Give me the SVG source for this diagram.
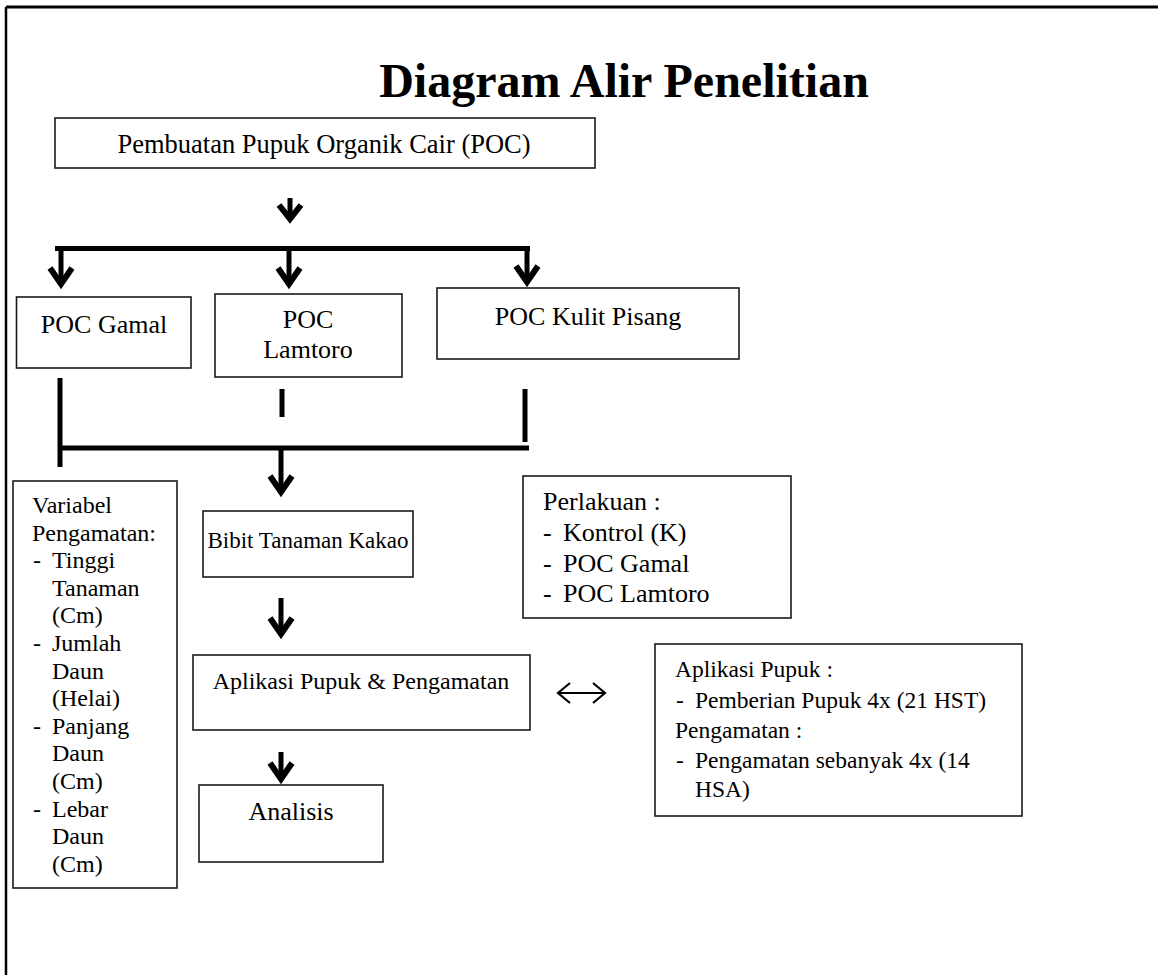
<svg xmlns="http://www.w3.org/2000/svg" width="1158" height="975" viewBox="0 0 1158 975">
<style>
.box{fill:#fff;stroke:#1a1a1a;stroke-width:1.6}
.t{font-family:"Liberation Serif","Times New Roman",serif;fill:#000}
.c{text-anchor:middle}
.con{fill:none;stroke:#000;stroke-width:5;stroke-linejoin:miter;stroke-linecap:butt}
.head{fill:none;stroke:#000;stroke-width:6;stroke-linejoin:miter;stroke-linecap:butt}
.thin{fill:none;stroke:#000;stroke-width:2.2;stroke-linejoin:miter}
</style>
<rect width="1158" height="975" fill="#fff"/>
<g id="frame">
<path d="M6 7 H1158" fill="none" stroke="#000" stroke-width="3"/>
<path d="M6 7 V975" fill="none" stroke="#000" stroke-width="2.5"/>
</g>
<g id="title">
<text class="t c" x="624" y="97" font-size="48" font-weight="bold">Diagram Alir Penelitian</text>
</g>
<g id="connectors">
<path class="con" d="M290 198 V218"/><path class="head" d="M279 205 L290 219 L301 205"/>
<path class="con" d="M55 248.5 H530"/>
<path class="con" d="M61 246 V283"/><path class="head" d="M50 268 L61 284 L72 268"/>
<path class="con" d="M289 246 V283"/><path class="head" d="M278 268 L289 284 L300 268"/>
<path class="con" d="M527 246 V281"/><path class="head" d="M516 266 L527 282 L538 266"/>
<path class="con" d="M60 378 V467"/>
<path class="con" d="M282 389 V417"/>
<path class="con" d="M525 389 V442"/>
<path class="con" d="M60 448 H529"/>
<path class="con" d="M281 450 V491"/><path class="head" d="M270 476 L281 492 L292 476"/>
<path class="con" d="M281 598 V633"/><path class="head" d="M270 618 L281 634 L292 618"/>
<path class="con" d="M281 752 V779"/><path class="head" d="M270 763 L281 779 L292 763"/>
<path class="thin" d="M558 693 H605 M570 683 L558 693 L570 703 M593 683 L605 693 L593 703"/>
</g>
<g id="n_pembuatan">
<rect class="box" x="55" y="118" width="540" height="50"/>
<text class="t c" x="324" y="153" font-size="26.5">Pembuatan Pupuk Organik Cair (POC)</text>
</g>
<g id="n_gamal">
<rect class="box" x="16.5" y="297" width="174.5" height="71"/>
<text class="t c" x="104" y="333" font-size="26">POC Gamal</text>
</g>
<g id="n_lamtoro">
<rect class="box" x="215" y="294" width="187" height="83"/>
<text class="t c" x="308" y="328" font-size="26">POC</text>
<text class="t c" x="308" y="358" font-size="26">Lamtoro</text>
</g>
<g id="n_kulit">
<rect class="box" x="437" y="288" width="302" height="71"/>
<text class="t c" x="588" y="325" font-size="26">POC Kulit Pisang</text>
</g>
<g id="n_variabel">
<rect class="box" x="13" y="481" width="164" height="407"/>
<text class="t" font-size="24">
<tspan x="32" y="513">Variabel</tspan>
<tspan x="32" y="540.6">Pengamatan:</tspan>
<tspan x="33" y="568.2">-</tspan><tspan x="52" y="568.2">Tinggi</tspan>
<tspan x="52" y="595.8">Tanaman</tspan>
<tspan x="52" y="623.4">(Cm)</tspan>
<tspan x="33" y="651">-</tspan><tspan x="52" y="651">Jumlah</tspan>
<tspan x="52" y="678.6">Daun</tspan>
<tspan x="52" y="706.2">(Helai)</tspan>
<tspan x="33" y="733.8">-</tspan><tspan x="52" y="733.8">Panjang</tspan>
<tspan x="52" y="761.4">Daun</tspan>
<tspan x="52" y="789">(Cm)</tspan>
<tspan x="33" y="816.6">-</tspan><tspan x="52" y="816.6">Lebar</tspan>
<tspan x="52" y="844.2">Daun</tspan>
<tspan x="52" y="871.8">(Cm)</tspan>
</text>
</g>
<g id="n_bibit">
<rect class="box" x="203" y="511" width="210" height="66"/>
<text class="t c" x="308" y="548" font-size="23">Bibit Tanaman Kakao</text>
</g>
<g id="n_perlakuan">
<rect class="box" x="523" y="476" width="268" height="142"/>
<text class="t" font-size="26">
<tspan x="543" y="510">Perlakuan :</tspan>
<tspan x="543" y="541">-</tspan><tspan x="563" y="541">Kontrol (K)</tspan>
<tspan x="543" y="572">-</tspan><tspan x="563" y="572">POC Gamal</tspan>
<tspan x="543" y="602">-</tspan><tspan x="563" y="602">POC Lamtoro</tspan>
</text>
</g>
<g id="n_aplikasi">
<rect class="box" x="193" y="655" width="337" height="75"/>
<text class="t c" x="361" y="689" font-size="24">Aplikasi Pupuk &amp; Pengamatan</text>
</g>
<g id="n_aplikasi_detail">
<rect class="box" x="655" y="644" width="367" height="172"/>
<text class="t" font-size="23.5">
<tspan x="675" y="677">Aplikasi Pupuk :</tspan>
<tspan x="676" y="708">-</tspan><tspan x="695" y="708">Pemberian Pupuk 4x (21 HST)</tspan>
<tspan x="675" y="738">Pengamatan :</tspan>
<tspan x="676" y="768">-</tspan><tspan x="695" y="768">Pengamatan sebanyak 4x (14</tspan>
<tspan x="695" y="797">HSA)</tspan>
</text>
</g>
<g id="n_analisis">
<rect class="box" x="199" y="785" width="184" height="77"/>
<text class="t c" x="291" y="820" font-size="26">Analisis</text>
</g>
</svg>
